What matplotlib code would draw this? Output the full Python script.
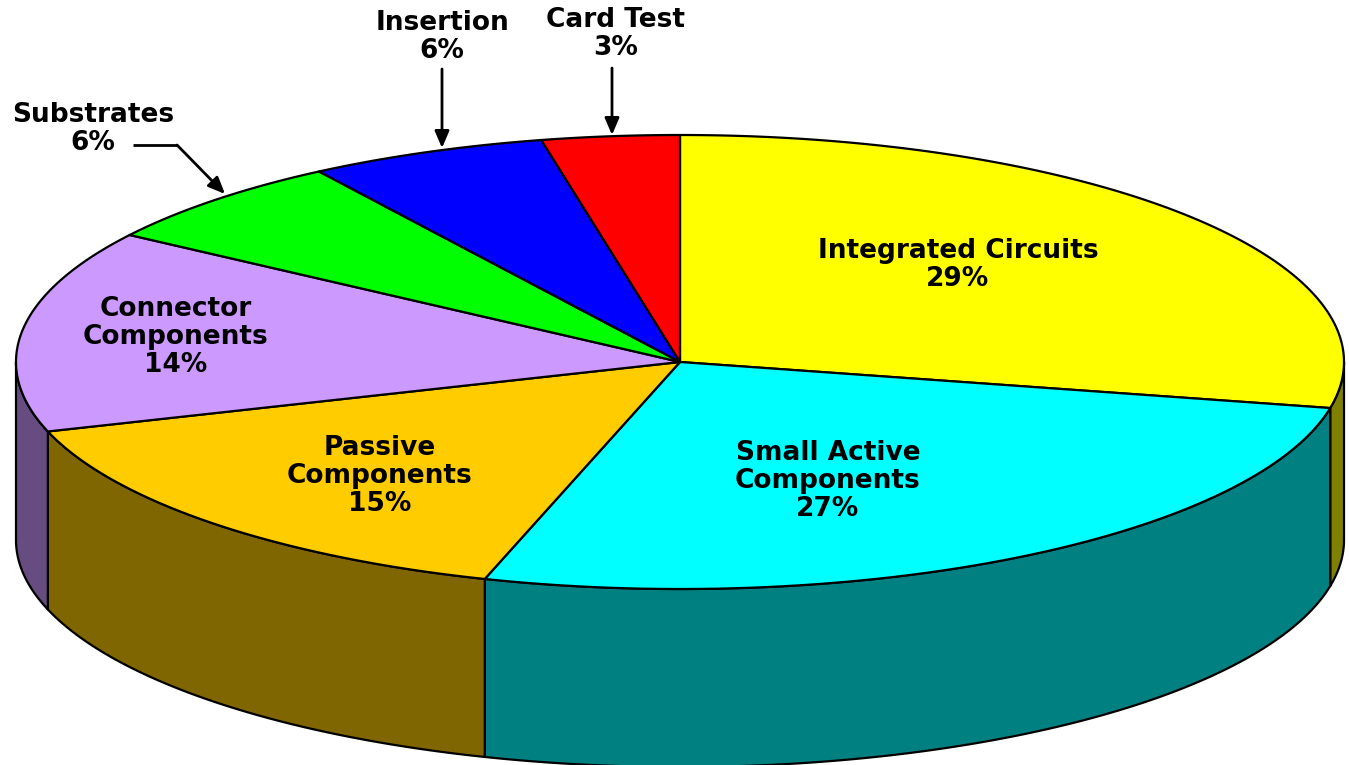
import numpy as np
import matplotlib
matplotlib.use("Agg")
import matplotlib.pyplot as plt
from matplotlib.patches import Polygon

# shares, clockwise from 12 o'clock
names = ["Integrated Circuits", "Small Active\nComponents", "Passive\nComponents",
         "Connector\nComponents", "Substrates", "Insertion", "Card Test"]
shares = [28.25, 26.5, 15.3, 14.4, 6.4, 5.8, 3.35]
percents = [29, 27, 15, 14, 6, 6, 3]
top_colors = ["#FFFF00", "#00FFFF", "#FFCC00", "#CC99FF", "#00FF00", "#0000FF", "#FF0000"]
side_colors = ["#808000", "#008080", "#806600", "#664C80", "#008000", "#000080", "#800000"]

# ellipse geometry, in image pixels
cx, cy = 680, 362
rx, ry = 664, 227
depth = 178
line_w = 1.6


def ellipse_pts(a0, a1, dy=0):
    t = np.radians(np.linspace(a0, a1, 200))
    return np.column_stack([cx + rx * np.cos(t), cy + ry * np.sin(t) + dy])


fig = plt.figure(figsize=(13.49, 7.65), dpi=100)
ax = fig.add_axes([0, 0, 1, 1])
ax.set_xlim(0, 1349)
ax.set_ylim(765, 0)
ax.axis("off")

# y axis points down, so positive angle is the front of the pie
edges = 270 + np.cumsum([0] + shares) * 360 / sum(shares)
slices = list(zip(edges[:-1], edges[1:]))

# side walls first, only the part that faces the viewer (0..180 deg)
for (a0, a1), col in zip(slices, side_colors):
    for shift in (0, 360):
        lo, hi = max(a0 - shift, 0), min(a1 - shift, 180)
        if hi <= lo:
            continue
        front = ellipse_pts(lo, hi)
        back = ellipse_pts(hi, lo, depth)
        ax.add_patch(Polygon(np.vstack([front, back]), closed=True, facecolor=col,
                             edgecolor="black", linewidth=line_w, joinstyle="round"))

# top face
for (a0, a1), col in zip(slices, top_colors):
    pts = np.vstack([[cx, cy], ellipse_pts(a0, a1)])
    ax.add_patch(Polygon(pts, closed=True, facecolor=col, edgecolor="black",
                         linewidth=line_w, joinstyle="round"))

# labels inside the pie
font = dict(fontsize=19, fontweight="bold", family="DejaVu Sans", color="black",
            ha="center", va="center", linespacing=1.12)
inside = {0: (958, 265), 1: (828, 481), 2: (380, 476), 3: (176, 337)}
for i, (x, y) in inside.items():
    ax.text(x, y, f"{names[i]}\n{percents[i]}%", **font)

# labels outside with arrows
outside = {4: (93, 129), 5: (442, 37), 6: (616, 34)}
for i, (x, y) in outside.items():
    ax.text(x, y, f"{names[i]}\n{percents[i]}%", **font)

arrow = dict(arrowstyle="-|>,head_length=0.7,head_width=0.3", color="black", lw=2,
             mutation_scale=14.5, shrinkA=0, shrinkB=0)
ax.annotate("", xy=(442, 148), xytext=(442, 69), arrowprops=arrow)
ax.annotate("", xy=(612, 135), xytext=(612, 68), arrowprops=arrow)
ax.plot([133, 177], [145, 145], color="black", lw=2, solid_capstyle="butt")
ax.annotate("", xy=(225, 194), xytext=(177, 145), arrowprops=arrow)

fig.savefig("out.png", dpi=100, facecolor="white")
